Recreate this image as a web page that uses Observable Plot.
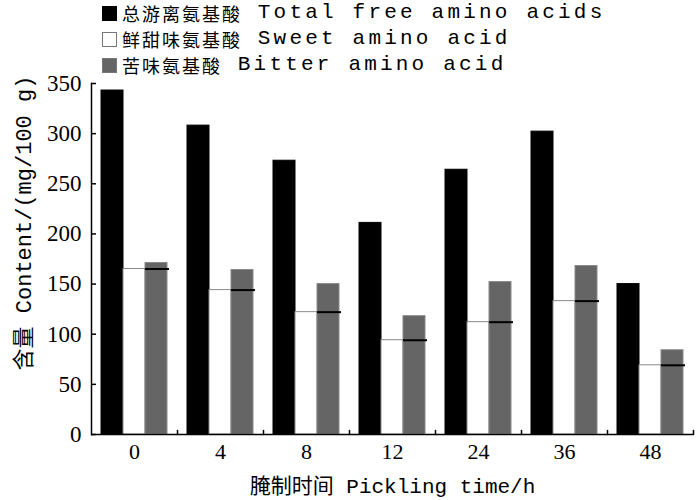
<!DOCTYPE html>
<html>
<head>
<meta charset="utf-8">
<script src="https://cdn.jsdelivr.net/npm/d3@7"></script>
<script src="https://cdn.jsdelivr.net/npm/@observablehq/plot@0.6"></script>
<style>
  html, body { margin: 0; padding: 0; background: #fff; }
  #wrap { position: relative; width: 700px; height: 500px; overflow: hidden; }
  #legend { position: absolute; left: 102px; top: 0px; color: #000; }
  .row { height: 26px; line-height: 22px; display: flex; align-items: center; white-space: pre; }
  .sw { width: 15px; height: 15px; box-sizing: border-box; margin-right: 5px; }
  .cjk { font-family: 'Noto Sans CJK SC', sans-serif; font-size: 18px; letter-spacing: 2px; line-height: 22px; }
  .lat { font-family: 'Liberation Mono', monospace; font-size: 21px; letter-spacing: 3.2px; line-height: 22px; }
</style>
</head>
<body>
<div id="wrap"><div id="legend"></div></div>
<script>
const times = ["0", "4", "8", "12", "24", "36", "48"];
const totalFree = [343, 308, 273, 211, 264, 302, 150];
const sweetAA = [165, 144, 122, 94, 112, 133, 69];
const bitterAA = [171, 164, 150, 118, 152, 168, 84];
const seriesKeys = ["total", "sweet", "bitter"];
const seriesCN = ["总游离氨基酸", "鲜甜味氨基酸", "苦味氨基酸"];
const seriesEN = ["Total free amino acids", "Sweet amino acid", "Bitter amino acid"];
const seriesFill = ["#000000", "#ffffff", "#656565"];
const seriesStroke = ["#000000", "#8a8a8a", "#8a8a8a"];
const yTicks = [0, 50, 100, 150, 200, 250, 300, 350];
const xLabel = "腌制时间 Pickling time/h";
const yLabel = "含量 Content/(mg/100 g)";

const rows = [];
times.forEach((t, i) => {
  rows.push({time: t, series: "total", value: totalFree[i]});
  rows.push({time: t, series: "sweet", value: sweetAA[i]});
  rows.push({time: t, series: "bitter", value: bitterAA[i]});
});
const sweetRows = rows.filter(d => d.series === "sweet").map(d => ({...d, series: "bitter"}));

const font = "'Liberation Mono','Noto Sans CJK SC',monospace";
const numFont = "'Liberation Serif','DejaVu Serif',serif";
const tickShape = {draw(ctx, l) { ctx.moveTo(0, 0); ctx.lineTo(0, -l); }};

const chart = Plot.plot({
  width: 700,
  height: 500,
  marginLeft: 88,
  marginRight: 4,
  marginTop: 83,
  marginBottom: 66,
  style: {background: "white", color: "black", fontFamily: font, fontSize: "20px"},
  fx: {domain: times, padding: 0, label: null},
  x: {domain: seriesKeys, paddingInner: 0, paddingOuter: 0.37, axis: null},
  y: {domain: [0, 350]},
  color: {domain: seriesKeys, range: seriesFill},
  marks: [
    Plot.barY(rows, {fx: "time", x: "series", y: "value", fill: "series",
      stroke: d => seriesStroke[seriesKeys.indexOf(d.series)], strokeWidth: 1}),
    Plot.tickY(sweetRows, {fx: "time", x: "series", y: "value", stroke: "black", strokeWidth: 2, insetRight: -2}),
    Plot.ruleY([0], {stroke: "black", strokeWidth: 1.5}),
    Plot.frame({anchor: "left", facetAnchor: "left", stroke: "black", strokeWidth: 1.5}),
    Plot.vector([0], {frameAnchor: "bottom-right", length: 4, anchor: "start", shape: tickShape, stroke: "black", strokeWidth: 1.5}),
    Plot.axisY({ticks: yTicks, tickSize: -5, fill: "none", label: null, strokeWidth: 1.5}),
    Plot.axisY({ticks: yTicks, tickSize: 0, tickPadding: 10, label: null, fontSize: 23, fontFamily: numFont}),
    Plot.axisFx({anchor: "bottom", tickSize: 0, tickPadding: 9, fontSize: 22, fontFamily: numFont, label: null}),
    Plot.axisFx({anchor: "bottom", tickSize: 0, tickFormat: () => "", fontSize: 21, fontFamily: font,
      label: xLabel, labelAnchor: "center", labelOffset: 58}),
    Plot.text([yLabel], {text: d => d, frameAnchor: "left", facetAnchor: "left", rotate: -90, textAnchor: "middle",
      dx: -68, dy: -36, fontSize: 22, fontFamily: font})
  ]
});
document.getElementById("wrap").prepend(chart);

const legend = document.getElementById("legend");
seriesKeys.forEach((k, i) => {
  const row = document.createElement("div");
  row.className = "row";
  const sw = document.createElement("span");
  sw.className = "sw";
  sw.style.background = seriesFill[i];
  sw.style.border = "1px solid " + (i === 0 ? "#000" : "#777");
  const cn = document.createElement("span");
  cn.className = "cjk";
  cn.textContent = seriesCN[i];
  const en = document.createElement("span");
  en.className = "lat";
  en.textContent = " " + seriesEN[i];
  row.appendChild(sw);
  row.appendChild(cn);
  row.appendChild(en);
  legend.appendChild(row);
});
</script>
</body>
</html>
